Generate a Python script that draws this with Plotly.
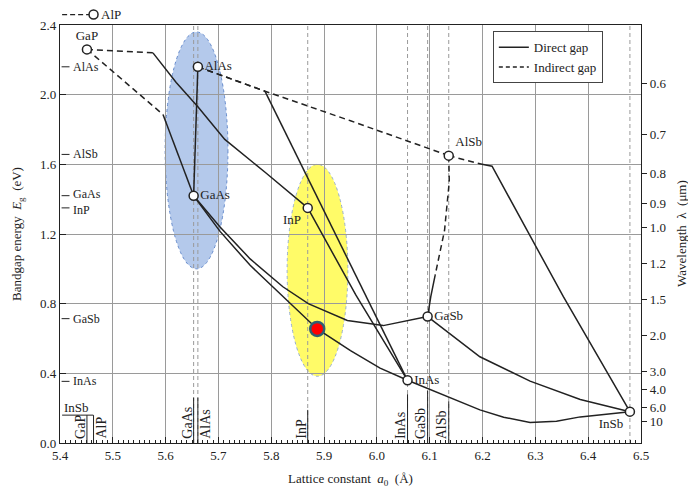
import plotly.graph_objects as go

FONT = "Liberation Serif, Times New Roman, Times, serif"

# ---- binary compounds (lattice constant in Å, bandgap in eV) ----
materials = ["GaP", "AlAs", "GaAs", "InP", "AlSb", "GaSb", "InAs", "InSb"]
lattice = [5.451, 5.661, 5.653, 5.869, 6.136, 6.096, 6.058, 6.479]
gap = [2.26, 2.16, 1.42, 1.35, 1.65, 0.726, 0.36, 0.18]
label_pos = ["top center", "middle right", "middle right", "bottom left",
             "top right", "middle right", "middle right", "bottom left"]

alp_lattice = [5.4635]
alp_gap = [2.46]
alp_dash_a = [5.404, 5.455]

# ---- ternary curves ----
gaasp_ind_a = [5.451, 5.595]
gaasp_ind_e = [2.26, 1.886]
gaasp_dir_a = [5.595, 5.653]
gaasp_dir_e = [1.886, 1.42]

gainp_ind_a = [5.451, 5.576]
gainp_ind_e = [2.26, 2.24]
gainp_dir_a = [5.576, 5.62, 5.661, 5.712, 5.79, 5.869]
gainp_dir_e = [2.24, 2.07, 1.931, 1.743, 1.55, 1.35]

algaas_a = [5.653, 5.661]
algaas_e = [1.42, 2.16]

alassb_a = [5.661, 5.788, 5.95, 6.136]
alassb_e = [2.16, 2.02, 1.85, 1.65]

alinas_ind_a = [5.661, 5.788]
alinas_ind_e = [2.16, 2.02]
alinas_dir_a = [5.788, 6.058]
alinas_dir_e = [2.02, 0.36]

inasp_a = [5.869, 5.96, 6.058]
inasp_e = [1.35, 0.85, 0.36]

gaassb_a = [5.653, 5.703, 5.76, 5.822, 5.87, 5.944, 6.012, 6.096]
gaassb_e = [1.42, 1.24, 1.057, 0.897, 0.80, 0.703, 0.674, 0.726]

gainas_a = [5.653, 5.703, 5.76, 5.82, 5.887, 5.95, 6.006, 6.058]
gainas_e = [1.42, 1.215, 1.02, 0.85, 0.655, 0.53, 0.43, 0.36]

inassb_a = [6.058, 6.133, 6.195, 6.24, 6.29, 6.34, 6.385, 6.479]
inassb_e = [0.36, 0.265, 0.19, 0.148, 0.118, 0.125, 0.15, 0.18]

gainsb_a = [6.096, 6.15, 6.195, 6.29, 6.385, 6.479]
gainsb_e = [0.726, 0.6, 0.495, 0.355, 0.25, 0.18]

algasb_ind_a = [6.136, 6.137, 6.128, 6.11]
algasb_ind_e = [1.65, 1.5, 1.22, 0.96]
algasb_dir_a = [6.11, 6.102, 6.096]
algasb_dir_e = [0.96, 0.84, 0.726]

alinsb_ind_a = [6.136, 6.199]
alinsb_ind_e = [1.65, 1.6]
alinsb_dir_a = [6.199, 6.218, 6.353, 6.479]
alinsb_dir_e = [1.6, 1.589, 0.84, 0.18]

# highlighted point
red_a = [5.887]
red_e = [0.655]

# ellipses (lattice range, gap range)
blue_a = [5.599, 5.718]
blue_e = [1.0, 2.36]
yellow_a = [5.83, 5.945]
yellow_e = [0.383, 1.6]

# labels on the left axis
axis_mats = ["AlAs", "AlSb", "GaAs", "InP", "GaSb", "InAs"]
axis_gaps = [2.16, 1.657, 1.42, 1.35, 0.714, 0.354]
axis_nudge = [0, 0, 2, -2, 0, 0]

# labels at the bottom
bottom_mats = ["GaP", "AlP", "GaAs", "AlAs", "InP", "InAs", "GaSb", "AlSb"]
bottom_lat = [5.451, 5.4635, 5.653, 5.661, 5.869, 6.058, 6.096, 6.136]
bottom_side = [-1, 1, -1, 1, -1, -1, -1, -1]
bottom_len = [0.16, 0.16, 0.26, 0.26, 0.19, 0.28, 0.30, 0.24]
insb_under_a = [5.404, 5.463]
insb_under_e = 0.16

# vertical dashed reference lines
ref_lat = [5.653, 5.661, 5.869, 6.058, 6.096, 6.136, 6.479]

# wavelength axis
wl_ticks = [0.6, 0.7, 0.8, 0.9, 1.0, 1.2, 1.5, 2.0, 3.0, 4.0, 6.0, 10]
wl_text = ["0.6", "0.7", "0.8", "0.9", "1.0", "1.2", "1.5", "2.0", "3.0", "4.0", "6.0", "10"]
wl_energy = [1.24 / w for w in wl_ticks]

YMAX = 2.4
LINE = "#222222"
DASH = "6px,4px"
TXT = dict(family=FONT, size=13, color="#222")
TXT_S = dict(family=FONT, size=12, color="#222")
TXT_B = dict(family=FONT, size=14, color="#222")

segments = [
    (gaasp_ind_a, gaasp_ind_e, DASH), (gaasp_dir_a, gaasp_dir_e, "solid"),
    (gainp_ind_a, gainp_ind_e, DASH), (gainp_dir_a, gainp_dir_e, "solid"),
    (algaas_a, algaas_e, "solid"),
    (alassb_a, alassb_e, DASH),
    (alinas_ind_a, alinas_ind_e, DASH), (alinas_dir_a, alinas_dir_e, "solid"),
    (inasp_a, inasp_e, "solid"),
    (gaassb_a, gaassb_e, "solid"),
    (gainas_a, gainas_e, "solid"),
    (inassb_a, inassb_e, "solid"),
    (gainsb_a, gainsb_e, "solid"),
    (algasb_ind_a, algasb_ind_e, DASH), (algasb_dir_a, algasb_dir_e, "solid"),
    (alinsb_ind_a, alinsb_ind_e, DASH), (alinsb_dir_a, alinsb_dir_e, "solid"),
]

fig = go.Figure()

for a, e, d in segments:
    fig.add_trace(go.Scatter(x=a, y=e, mode="lines", showlegend=False,
                             line=dict(color=LINE, width=1.5, dash=d),
                             hoverinfo="skip"))

# legend entries
fig.add_trace(go.Scatter(x=[None], y=[None], mode="lines", name="Direct gap",
                         line=dict(color=LINE, width=1.5)))
fig.add_trace(go.Scatter(x=[None], y=[None], mode="lines", name="Indirect gap",
                         line=dict(color=LINE, width=1.5, dash="4px,3px")))

# red point
fig.add_trace(go.Scatter(x=red_a, y=red_e, mode="markers", showlegend=False,
                         marker=dict(size=14, color="#ff0000",
                                     line=dict(color="#2f5f70", width=2.5))))

# binary compound markers
fig.add_trace(go.Scatter(x=lattice, y=gap, mode="markers+text", showlegend=False,
                         text=materials, textposition=label_pos, textfont=TXT,
                         marker=dict(size=9, color="white", symbol="circle",
                                     line=dict(color=LINE, width=1.5)),
                         cliponaxis=False))

# invisible trace for wavelength axis
fig.add_trace(go.Scatter(x=[5.4], y=[0], yaxis="y2", mode="markers",
                         marker=dict(opacity=0), showlegend=False, hoverinfo="skip"))

shapes = []
# ellipses
shapes.append(dict(type="circle", xref="x", yref="y", x0=blue_a[0], x1=blue_a[1],
                   y0=blue_e[0], y1=blue_e[1], fillcolor="rgba(105,148,215,0.50)",
                   line=dict(color="rgba(90,130,200,0.9)", width=1, dash="dot"),
                   layer="below"))
shapes.append(dict(type="circle", xref="x", yref="y", x0=yellow_a[0], x1=yellow_a[1],
                   y0=yellow_e[0], y1=yellow_e[1], fillcolor="rgba(255,250,40,0.70)",
                   line=dict(color="rgba(140,165,210,0.9)", width=1, dash="dot"),
                   layer="below"))
# vertical dashed lines
for xl in ref_lat:
    shapes.append(dict(type="line", xref="x", yref="y", x0=xl, x1=xl, y0=0, y1=YMAX,
                       line=dict(color="#9a9a9a", width=1, dash="4px,3px"), layer="below"))
# AlP: dashed line + open marker above the frame
shapes.append(dict(type="line", xref="x", yref="paper", x0=alp_dash_a[0], x1=alp_dash_a[1],
                   y0=alp_gap[0] / YMAX, y1=alp_gap[0] / YMAX,
                   line=dict(color=LINE, width=1.2, dash="5px,3px")))
shapes.append(dict(type="circle", xref="x", yref="paper", xsizemode="pixel", ysizemode="pixel",
                   xanchor=alp_lattice[0], yanchor=alp_gap[0] / YMAX,
                   x0=-4.5, x1=4.5, y0=-4.5, y1=4.5, fillcolor="white",
                   line=dict(color=LINE, width=1.5)))
# left-axis ticks for materials
for g in axis_gaps:
    shapes.append(dict(type="line", xref="x", yref="y", x0=5.403, x1=5.418, y0=g, y1=g,
                       line=dict(color=LINE, width=1)))
# bottom bracket lines
for xl, ln in zip(bottom_lat, bottom_len):
    shapes.append(dict(type="line", xref="x", yref="y", x0=xl, x1=xl, y0=0, y1=ln,
                       line=dict(color=LINE, width=1)))
shapes.append(dict(type="line", xref="x", yref="y", x0=insb_under_a[0], x1=insb_under_a[1],
                   y0=insb_under_e, y1=insb_under_e, line=dict(color=LINE, width=1)))

annotations = []
annotations.append(dict(x=alp_lattice[0], y=alp_gap[0] / YMAX, xref="x", yref="paper",
                        text="AlP", showarrow=False, xanchor="left", yanchor="middle",
                        xshift=5, font=TXT))
for m, g, n in zip(axis_mats, axis_gaps, axis_nudge):
    annotations.append(dict(x=5.418, y=g, xref="x", yref="y", text=m, showarrow=False,
                            xanchor="left", yanchor="middle", xshift=1, yshift=n,
                            font=TXT_S))
for m, xl, s in zip(bottom_mats, bottom_lat, bottom_side):
    annotations.append(dict(x=xl, y=0, xref="x", yref="y", text=m, showarrow=False,
                            textangle=-90, xanchor="center", yanchor="bottom",
                            xshift=7 * s, yshift=2, font=TXT_B))
annotations.append(dict(x=insb_under_a[0], y=insb_under_e, xref="x", yref="y", text="InSb",
                        showarrow=False, xanchor="left", yanchor="bottom", yshift=-2,
                        font=TXT))
# right-axis title
annotations.append(dict(x=1, y=0.5, xref="paper", yref="paper", text="Wavelength  λ  (μm)",
                        showarrow=False, textangle=-90, xanchor="center", yanchor="middle",
                        xshift=40, font=TXT))

fig.update_layout(
    width=688, height=488,
    margin=dict(l=60, r=47, t=25, b=45, autoexpand=False),
    plot_bgcolor="white", paper_bgcolor="white",
    font=TXT,
    shapes=shapes, annotations=annotations,
    legend=dict(x=0.745, y=0.985, xanchor="left", yanchor="top",
                bordercolor="#444", borderwidth=1, bgcolor="white",
                font=dict(family=FONT, size=13), tracegroupgap=0),
    xaxis=dict(range=[5.4, 6.5], dtick=0.1, tick0=5.4, tickformat=".1f",
               showgrid=True, gridcolor="#9a9a9a", gridwidth=1,
               showline=True, linecolor="#222", linewidth=1.2, mirror=True,
               ticks="inside", ticklen=6, tickcolor="#222",
               minor=dict(dtick=0.01, ticks="inside", ticklen=3, tickcolor="#222", showgrid=False),
               zeroline=False, automargin=False,
               title=dict(text="Lattice constant  <i>a</i><sub>0</sub>  (Å)", font=TXT)),
    yaxis=dict(range=[0, YMAX], dtick=0.4, tickformat=".1f",
               showgrid=True, gridcolor="#9a9a9a", gridwidth=1,
               showline=True, linecolor="#222", linewidth=1.2, mirror=True,
               ticks="inside", ticklen=6, tickcolor="#222", zeroline=False,
               automargin=False,
               title=dict(text="Bandgap energy  <i>E</i><sub>g</sub>  (eV)", font=TXT)),
    yaxis2=dict(range=[0, YMAX], overlaying="y", side="right",
                tickvals=wl_energy, ticktext=wl_text,
                ticks="outside", ticklen=5, tickcolor="#222",
                showgrid=False, showline=True, linecolor="#222", linewidth=1.2,
                zeroline=False, automargin=False),
)

fig.write_html("out.html", config={"displayModeBar": False},
               post_script="document.body.style.margin='0';")
